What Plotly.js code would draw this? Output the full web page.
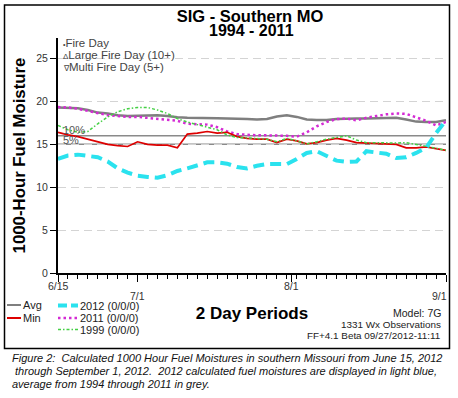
<!DOCTYPE html>
<html><head><meta charset="utf-8">
<script src="https://cdn.plot.ly/plotly-3.0.1.min.js"></script>
<style>html,body{margin:0;padding:0;background:#fff}#chart{width:458px;height:398px}</style>
</head><body><div id="chart"></div>
<script>
// ---- data ----
const dates = ['2012-06-15','2012-06-17','2012-06-19','2012-06-21','2012-06-23','2012-06-25','2012-06-27','2012-06-29',
  '2012-07-01','2012-07-03','2012-07-05','2012-07-07','2012-07-09','2012-07-11','2012-07-13','2012-07-15','2012-07-17',
  '2012-07-19','2012-07-21','2012-07-23','2012-07-25','2012-07-27','2012-07-29','2012-07-31','2012-08-02','2012-08-04',
  '2012-08-06','2012-08-08','2012-08-10','2012-08-12','2012-08-14','2012-08-16','2012-08-18','2012-08-20','2012-08-22',
  '2012-08-24','2012-08-26','2012-08-28','2012-08-30','2012-09-01'];
const avgVals = [19.3,19.25,19.2,19.0,18.7,18.6,18.4,18.3,18.35,18.4,18.4,18.3,18.15,18.1,18.1,18.1,18.05,18.0,18.0,17.95,
  17.9,17.95,18.25,18.4,18.2,17.9,17.85,17.85,17.95,18.0,18.0,18.0,18.05,18.05,18.1,17.9,17.65,17.6,17.6,17.8];
const minVals = [16.4,16.1,15.9,15.6,15.3,15.0,14.85,14.75,15.3,15.0,14.9,14.9,14.6,16.2,16.3,16.5,16.3,16.4,15.9,15.7,
  15.6,15.6,15.2,15.6,15.4,15.05,15.2,15.5,15.7,15.5,15.2,15.15,15.1,15.05,15.0,14.6,14.6,14.7,14.5,14.3];
const y2012 = [13.3,13.7,13.8,13.6,13.5,13.0,12.2,11.7,11.35,11.2,11.1,11.4,11.9,12.2,12.6,12.9,12.9,12.75,12.35,12.2,
  12.5,12.7,12.7,12.7,13.3,14.0,14.2,13.7,13.1,12.95,13.0,14.2,14.1,13.9,13.4,13.5,14.0,14.6,16.3,17.8];
const y2011 = [19.35,19.3,19.15,18.9,18.65,18.4,18.3,18.2,18.2,18.1,18.0,17.9,17.75,17.4,17.35,17.3,17.0,16.5,16.2,16.1,
  16.05,16.05,16.05,16.0,15.9,16.4,17.1,17.6,17.95,18.0,17.8,18.1,18.3,18.5,18.6,18.55,18.15,17.75,17.2,17.6];
const y1999 = [17.2,16.7,16.4,16.5,17.4,18.2,18.8,19.15,19.3,19.3,19.0,18.6,18.0,17.6,17.3,17.0,16.7,16.1,15.8,15.75,
  15.65,15.6,15.3,15.7,15.4,15.05,15.3,15.6,15.8,16.0,15.5,15.2,15.2,15.15,15.15,15.2,15.0,14.8,14.55,14.3];
const pct10 = 16.0, pct5 = 15.0;
const tickDates = ['2012-06-15','2012-07-01','2012-08-01','2012-09-01'];
const tickLabels = ['6/15','7/1','8/1','9/1'];
const yTicks = [0,5,10,15,20,25];

// ---- geometry helpers (pixel -> paper) ----
const L=58,R=446,T=38,B=273;
const px = x => (x-L)/(R-L);
const py = y => (B-y)/(B-T);
const F = 'Arial, "Liberation Sans", sans-serif';

const traces = [
  {x:dates,y:avgVals,name:'Avg',mode:'lines',line:{color:'#7f7f7f',width:2.5}},
  {x:dates,y:y2011,name:'2011 (0/0/0)',mode:'lines',line:{color:'#d42ad4',width:2.5,dash:'2.5px,3px'}},
  {x:dates,y:minVals,name:'Min',mode:'lines',line:{color:'#dd0000',width:1.7}},
  {x:dates,y:y1999,name:'1999 (0/0/0)',mode:'lines',line:{color:'#44d044',width:1.5,dash:'3px,2px,1.5px,2px'}},
  {x:dates,y:y2012,name:'2012 (0/0/0)',mode:'lines',line:{color:'#2ae2ee',width:4,dash:'11px,6px'}}
];

function ann(text,x,y,opts){return Object.assign({text:text,xref:'paper',yref:'paper',x:px(x),y:py(y),
  showarrow:false,xanchor:'left',yanchor:'middle',font:{family:F,size:11,color:'#222'}},opts||{});}
function seg(x0,x1,y,line){return {type:'line',xref:'paper',yref:'paper',x0:px(x0),x1:px(x1),y0:py(y),y1:py(y),line:line};}

const tickFont = {family:F,size:10.5,color:'#333'};
const tickAnns = tickLabels.map((t,i)=>({text:t,xref:'x',yref:'paper',x:tickDates[i],
  y:py(i%2 ? 295.5 : 285.5),yanchor:'middle',xanchor:(i===tickLabels.length-1?'right':'center'),
  xshift:(i===tickLabels.length-1?3:0),showarrow:false,font:tickFont}));

const annotations = tickAnns.concat([
  ann('<b>1994 - 2011</b>',251,30.5,{xanchor:'center',font:{family:F,size:16,color:'#000'}}),
  ann('<span style="font-size:7px">•</span>Fire Day',61,43,{font:{family:F,size:11.5,color:'#444'}}),
  ann('<span style="font-size:8px">Δ</span>Large Fire Day (10+)',61,55,{font:{family:F,size:11.5,color:'#444'}}),
  ann('<span style="font-size:8px">∇</span>Multi Fire Day (5+)',61,67,{font:{family:F,size:11.5,color:'#444'}}),
  ann('10%',61,130,{font:{family:F,size:11,color:'#555'}}),
  ann('5%',61,139.5,{font:{family:F,size:11,color:'#555'}}),
  ann('Avg',21,305),
  ann('Min',21,318),
  ann('2012 (0/0/0)',78,305.5),
  ann('2011 (0/0/0)',78,318),
  ann('1999 (0/0/0)',78,329.5),
  ann('Model: 7G',443,313,{xanchor:'right',font:{family:F,size:10.5,color:'#222'}}),
  ann('1331 Wx Observations',443,324.5,{xanchor:'right',font:{family:F,size:9.9,color:'#222'}}),
  ann('FF+4.1 Beta 09/27/2012-11:11',443,335.5,{xanchor:'right',font:{family:F,size:9.9,color:'#222'}}),
  ann('<i>Figure 2: &nbsp;Calculated 1000 Hour Fuel Moistures in southern Missouri from June 15, 2012</i>',10,358,{font:{family:F,size:11,color:'#111'}}),
  ann('<i>&nbsp;through September 1, 2012. &nbsp;2012 calculated fuel moistures are displayed in light blue,</i>',10,371,{font:{family:F,size:11,color:'#111'}}),
  ann('<i>average from 1994 through 2011 in grey.</i>',10,384,{font:{family:F,size:11,color:'#111'}})
]);

const shapes = [
  {type:'line',xref:'paper',yref:'y',x0:0,x1:1,y0:pct10,y1:pct10,layer:'between',line:{color:'#8a8a8a',width:1.5}},
  {type:'line',xref:'paper',yref:'y',x0:0,x1:1,y0:pct5,y1:pct5,layer:'between',line:{color:'#8a8a8a',width:1.5}},
  {type:'rect',xref:'paper',yref:'paper',x0:px(4.5),x1:px(449.5),y0:py(348.5),y1:py(5),line:{color:'#000',width:1.5},fillcolor:'rgba(0,0,0,0)'},
  seg(7,21,305,{color:'#7f7f7f',width:2}),
  seg(7,21,318,{color:'#dd0000',width:2}),
  seg(58,78,305.5,{color:'#2ae2ee',width:4,dash:'9px,4px'}),
  seg(58,78,318,{color:'#d42ad4',width:2.5,dash:'2.5px,3px'}),
  seg(58,78,329.5,{color:'#44d044',width:1.5,dash:'3px,2px,1.5px,2px'})
];

const layout = {
  width:458,height:398,
  margin:{l:L,r:458-R,t:T,b:398-B},
  paper_bgcolor:'#fff',plot_bgcolor:'#fff',
  showlegend:false,
  font:{family:F,color:'#222'},
  title:{text:'<b>SIG - Southern MO</b>',font:{family:F,size:16.5,color:'#000'},
    xref:'container',yref:'container',x:250/458,xanchor:'center',y:1-16/398,yanchor:'middle'},
  xaxis:{type:'date',range:['2012-06-15','2012-09-01'],tickmode:'array',tickvals:tickDates,ticktext:tickLabels,
    showticklabels:false,
    ticks:'outside',ticklen:7,tickwidth:1,tickcolor:'#000',showline:true,linecolor:'#000',linewidth:1.5,
    showgrid:false,zeroline:false,tickfont:tickFont,
    minor:{tickmode:'linear',tick0:'2012-06-15',dtick:2*86400000,ticks:'outside',ticklen:4,tickwidth:1,tickcolor:'#000',showgrid:false},
    title:{text:'<b>2 Day Periods</b>',font:{family:F,size:17,color:'#000'},standoff:26},
    automargin:false,fixedrange:true},
  yaxis:{range:[0,27.4],tickmode:'array',tickvals:yTicks,ticks:'outside',ticklen:6,tickwidth:1,tickcolor:'#000',
    showline:true,linecolor:'#000',linewidth:2,showgrid:true,gridcolor:'#d4d4d4',griddash:'8px,5px',gridwidth:1,
    zeroline:false,tickfont:tickFont,
    title:{text:'<b>1000-Hour Fuel Moisture</b>',font:{family:F,size:16.8,color:'#000'},standoff:6},
    automargin:false,fixedrange:true},
  annotations:annotations,
  shapes:shapes
};

Plotly.newPlot('chart',traces,layout,{staticPlot:true,displayModeBar:false});
</script>
</body></html>
